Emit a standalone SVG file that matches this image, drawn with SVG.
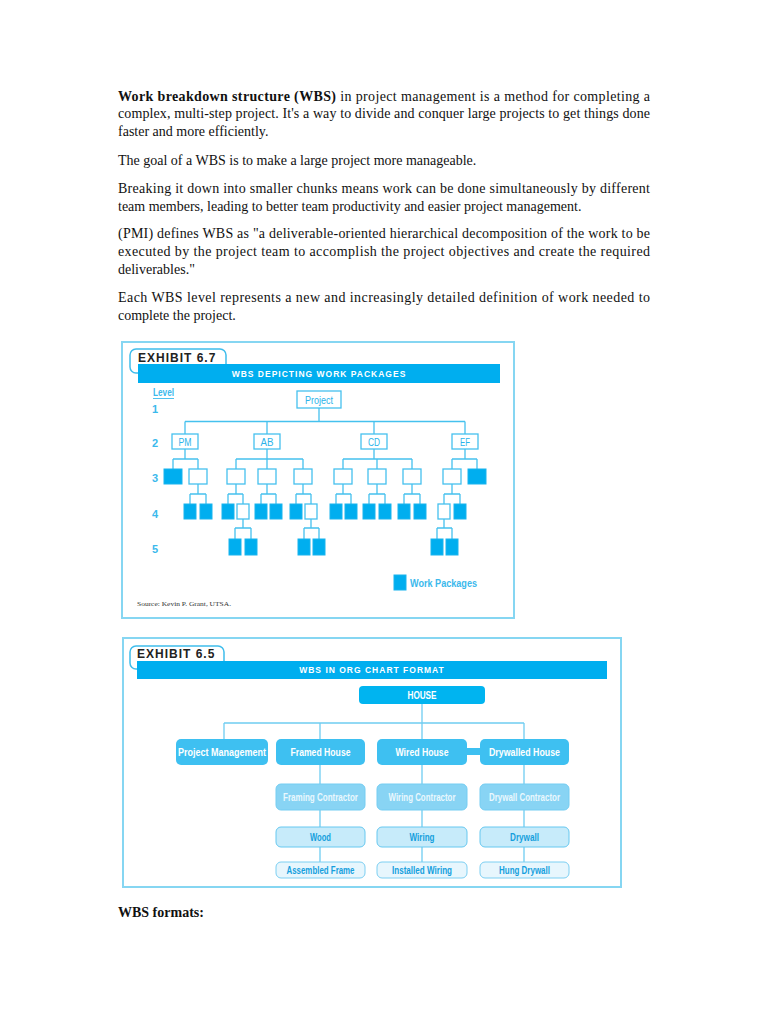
<svg xmlns="http://www.w3.org/2000/svg" width="768" height="1024" viewBox="0 0 768 1024">
<style>
.p{font-family:"Liberation Serif","Times New Roman",serif;font-size:14px;fill:#111}
.b{font-weight:bold}
.frame{fill:none;stroke:#86d6f2;stroke-width:2}
.tab{fill:#fff;stroke:#3fbdec;stroke-width:1.5}
.ex{font-family:"Liberation Sans",Arial,sans-serif;font-weight:bold;font-size:12px;letter-spacing:1px;fill:#222}
.ban{fill:#00aeef}
.bt{font-family:"Liberation Sans",Arial,sans-serif;font-weight:bold;font-size:8.5px;letter-spacing:1px;fill:#fff;text-anchor:middle}
.e{fill:#fff;stroke:#45c1ee;stroke-width:1.3}
.f{fill:#00aeef;stroke:#19b4ee;stroke-width:1}
.lbl{font-family:"Liberation Sans",Arial,sans-serif;font-size:11px;fill:#2bb3ea;text-anchor:middle}
.lv{font-family:"Liberation Sans",Arial,sans-serif;font-size:11px;font-weight:bold;fill:#3bb9ec}
.con{fill:none;stroke:#45c1ee;stroke-width:1.3}
.con2{fill:none;stroke:#6fcdf1;stroke-width:1.3}
.l1{fill:#00b4f0}
.l2{fill:#3ec0f1}
.l3{fill:#88d4f4;stroke:#74cdf2;stroke-width:1}
.l4{fill:#c7ebfa;stroke:#66c8f0;stroke-width:1}
.l5{fill:#e7f6fd;stroke:#7ccff2;stroke-width:1}
.wt{font-family:"Liberation Sans",Arial,sans-serif;font-weight:bold;font-size:11px;fill:#fff;text-anchor:middle}
.lt{font-family:"Liberation Sans",Arial,sans-serif;font-weight:bold;font-size:11px;fill:#eaf8fe;text-anchor:middle}
.bl{font-family:"Liberation Sans",Arial,sans-serif;font-weight:bold;font-size:11px;fill:#159fdd;text-anchor:middle}
</style>
<rect width="768" height="1024" fill="#fff"/>

<g id="intro-text">
<text class="p" x="118" y="100.5" textLength="532" lengthAdjust="spacing"><tspan class="b">Work breakdown structure (WBS)</tspan> in project management is a method for completing a</text>
<text class="p" x="118" y="118" textLength="532" lengthAdjust="spacing">complex, multi-step project. It's a way to divide and conquer large projects to get things done</text>
<text class="p" x="118" y="135.5">faster and more efficiently.</text>
<text class="p" x="118" y="164.5">The goal of a WBS is to make a large project more manageable.</text>
<text class="p" x="118" y="192.5" textLength="532" lengthAdjust="spacing">Breaking it down into smaller chunks means work can be done simultaneously by different</text>
<text class="p" x="118" y="210.5">team members, leading to better team productivity and easier project management.</text>
<text class="p" x="118" y="237.5" textLength="532" lengthAdjust="spacing">(PMI) defines WBS as "a deliverable-oriented hierarchical decomposition of the work to be</text>
<text class="p" x="118" y="255.5" textLength="532" lengthAdjust="spacing">executed by the project team to accomplish the project objectives and create the required</text>
<text class="p" x="118" y="273.5">deliverables."</text>
<text class="p" x="118" y="301.5" textLength="532" lengthAdjust="spacing">Each WBS level represents a new and increasingly detailed definition of work needed to</text>
<text class="p" x="118" y="319.5">complete the project.</text>
</g>

<!-- EXHIBIT 6.7 -->
<g id="exhibit-6-7">
<rect class="frame" x="122" y="342" width="392" height="276"/>
<rect class="tab" x="130" y="349" width="96" height="24" rx="6"/>
<text class="ex" x="138" y="361.5">EXHIBIT 6.7</text>
<rect class="ban" x="138" y="364" width="362" height="19"/>
<text class="bt" x="319" y="376.5">WBS DEPICTING WORK PACKAGES</text>
<text class="lv" x="153" y="396" textLength="21" lengthAdjust="spacingAndGlyphs">Level</text>
<line x1="153" y1="398.5" x2="174" y2="398.5" stroke="#3bb9ec" stroke-width="0.9"/>
<text class="lv" x="152" y="413">1</text>
<text class="lv" x="152" y="447">2</text>
<text class="lv" x="152" y="482">3</text>
<text class="lv" x="152" y="518">4</text>
<text class="lv" x="152" y="553">5</text>
<text style="font-family:'Liberation Serif',serif;font-size:7px;fill:#333" x="137" y="606" textLength="94" lengthAdjust="spacingAndGlyphs">Source: Kevin P. Grant, UTSA.</text>
</g>

<g id="wbs-connectors">
<path class="con" d="M319 408V421.5M185 421.5H465M185 421.5V434M267 421.5V434M374 421.5V434M465 421.5V434
M185 449V459M173 459H198M173 459V469M198 459V469
M267 449V459M236 459H303M236 459V469M267 459V469M303 459V469
M374 449V459M343 459H412M343 459V469M377 459V469M412 459V469
M465 449V459M452 459H477M452 459V469M477 459V469
M198 484V494M190 494H206M190 494V504M206 494V504
M236 484V494M228 494H243M228 494V504M243 494V504
M267 484V494M261 494H276M261 494V504M276 494V504
M303 484V494M296 494H311M296 494V504M311 494V504
M343 484V494M336 494H351M336 494V504M351 494V504
M377 484V494M369 494H385M369 494V504M385 494V504
M412 484V494M404 494H420M404 494V504M420 494V504
M452 484V494M444 494H460M444 494V504M460 494V504
M243 519V528M235 528H251M235 528V539M251 528V539
M311 519V528M304 528H319M304 528V539M319 528V539
M444 519V528M437 528H452M437 528V539M452 528V539"/>
</g>

<g id="n-project"><rect class="e" x="297" y="391" width="44" height="17"/><text class="lbl" x="319" y="403.5" textLength="28" lengthAdjust="spacingAndGlyphs">Project</text></g>
<g id="n-pm"><rect class="e" x="172" y="434" width="26" height="15"/><text class="lbl" x="185" y="445.5" textLength="13" lengthAdjust="spacingAndGlyphs">PM</text></g>
<g id="n-ab"><rect class="e" x="254" y="434" width="26" height="15"/><text class="lbl" x="267" y="445.5" textLength="13" lengthAdjust="spacingAndGlyphs">AB</text></g>
<g id="n-cd"><rect class="e" x="361" y="434" width="26" height="15"/><text class="lbl" x="374" y="445.5" textLength="12" lengthAdjust="spacingAndGlyphs">CD</text></g>
<g id="n-ef"><rect class="e" x="452" y="434" width="26" height="15"/><text class="lbl" x="465" y="445.5" textLength="10" lengthAdjust="spacingAndGlyphs">EF</text></g>

<g id="n-pm-1"><rect class="f" x="164" y="469" width="18" height="15"/></g>
<g id="n-pm-2"><rect class="e" x="189" y="469" width="18" height="15"/></g>
<g id="n-ab-1"><rect class="e" x="227" y="469" width="18" height="15"/></g>
<g id="n-ab-2"><rect class="e" x="258" y="469" width="18" height="15"/></g>
<g id="n-ab-3"><rect class="e" x="294" y="469" width="18" height="15"/></g>
<g id="n-cd-1"><rect class="e" x="334" y="469" width="18" height="15"/></g>
<g id="n-cd-2"><rect class="e" x="368" y="469" width="18" height="15"/></g>
<g id="n-cd-3"><rect class="e" x="403" y="469" width="18" height="15"/></g>
<g id="n-ef-1"><rect class="e" x="443" y="469" width="18" height="15"/></g>
<g id="n-ef-2"><rect class="f" x="468" y="469" width="18" height="15"/></g>

<g id="n-pm-2-1"><rect class="f" x="184" y="504" width="12" height="15"/></g>
<g id="n-pm-2-2"><rect class="f" x="200" y="504" width="12" height="15"/></g>
<g id="n-ab-1-1"><rect class="f" x="222" y="504" width="12" height="15"/></g>
<g id="n-ab-1-2"><rect class="e" x="237" y="504" width="12" height="15"/></g>
<g id="n-ab-2-1"><rect class="f" x="255" y="504" width="12" height="15"/></g>
<g id="n-ab-2-2"><rect class="f" x="270" y="504" width="12" height="15"/></g>
<g id="n-ab-3-1"><rect class="f" x="290" y="504" width="12" height="15"/></g>
<g id="n-ab-3-2"><rect class="e" x="305" y="504" width="12" height="15"/></g>
<g id="n-cd-1-1"><rect class="f" x="330" y="504" width="12" height="15"/></g>
<g id="n-cd-1-2"><rect class="f" x="345" y="504" width="12" height="15"/></g>
<g id="n-cd-2-1"><rect class="f" x="363" y="504" width="12" height="15"/></g>
<g id="n-cd-2-2"><rect class="f" x="379" y="504" width="12" height="15"/></g>
<g id="n-cd-3-1"><rect class="f" x="398" y="504" width="12" height="15"/></g>
<g id="n-cd-3-2"><rect class="f" x="414" y="504" width="12" height="15"/></g>
<g id="n-ef-1-1"><rect class="e" x="438" y="504" width="12" height="15"/></g>
<g id="n-ef-1-2"><rect class="f" x="454" y="504" width="12" height="15"/></g>

<g id="n-ab-1-2-1"><rect class="f" x="229" y="539" width="12" height="16"/></g>
<g id="n-ab-1-2-2"><rect class="f" x="245" y="539" width="12" height="16"/></g>
<g id="n-ab-3-2-1"><rect class="f" x="298" y="539" width="12" height="16"/></g>
<g id="n-ab-3-2-2"><rect class="f" x="313" y="539" width="12" height="16"/></g>
<g id="n-ef-1-1-1"><rect class="f" x="431" y="539" width="12" height="16"/></g>
<g id="n-ef-1-1-2"><rect class="f" x="446" y="539" width="12" height="16"/></g>

<g id="legend"><rect class="f" x="394" y="575" width="12" height="15"/><text class="lv" x="410" y="587" textLength="67" lengthAdjust="spacingAndGlyphs">Work Packages</text></g>

<!-- EXHIBIT 6.5 -->
<g id="exhibit-6-5">
<rect class="frame" x="123" y="638" width="498" height="249"/>
<rect class="tab" x="130" y="646" width="94" height="23" rx="6"/>
<text class="ex" x="137" y="657.5">EXHIBIT 6.5</text>
<rect class="ban" x="137" y="661" width="470" height="18"/>
<text class="bt" x="372" y="673">WBS IN ORG CHART FORMAT</text>
</g>

<g id="org-connectors">
<path class="con2" d="M422 704V739M224 723H524M224 723V739M320 723V739M524 723V739
M320 765V784M422 765V784M524 765V784
M320 810V827M422 810V827M524 810V827
M320 847V862M422 847V862M524 847V862"/>
<rect class="l2" x="466" y="748" width="15" height="7"/>
</g>

<g id="o-house"><rect class="l1" x="359" y="686" width="126" height="18" rx="4"/><text class="wt" x="422" y="698.5" textLength="29" lengthAdjust="spacingAndGlyphs">HOUSE</text></g>
<g id="o-pm"><rect class="l2" x="176" y="739" width="92" height="26" rx="5"/><text class="wt" x="222" y="756" textLength="88" lengthAdjust="spacingAndGlyphs">Project Management</text></g>
<g id="o-framed"><rect class="l2" x="276" y="739" width="89" height="26" rx="5"/><text class="wt" x="320.5" y="756" textLength="60" lengthAdjust="spacingAndGlyphs">Framed House</text></g>
<g id="o-wired"><rect class="l2" x="377" y="739" width="90" height="26" rx="5"/><text class="wt" x="422" y="756" textLength="53" lengthAdjust="spacingAndGlyphs">Wired House</text></g>
<g id="o-drywalled"><rect class="l2" x="480" y="739" width="89" height="26" rx="5"/><text class="wt" x="524.5" y="756" textLength="71" lengthAdjust="spacingAndGlyphs">Drywalled House</text></g>

<g id="o-framing-contractor"><rect class="l3" x="276" y="784" width="89" height="26" rx="5"/><text class="lt" x="320.5" y="801" textLength="75" lengthAdjust="spacingAndGlyphs">Framing Contractor</text></g>
<g id="o-wiring-contractor"><rect class="l3" x="377" y="784" width="90" height="26" rx="5"/><text class="lt" x="422" y="801" textLength="67" lengthAdjust="spacingAndGlyphs">Wiring Contractor</text></g>
<g id="o-drywall-contractor"><rect class="l3" x="480" y="784" width="89" height="26" rx="5"/><text class="lt" x="524.5" y="801" textLength="71" lengthAdjust="spacingAndGlyphs">Drywall Contractor</text></g>

<g id="o-wood"><rect class="l4" x="276" y="827" width="89" height="20" rx="5"/><text class="bl" x="320.5" y="841" textLength="21" lengthAdjust="spacingAndGlyphs">Wood</text></g>
<g id="o-wiring"><rect class="l4" x="377" y="827" width="90" height="20" rx="5"/><text class="bl" x="422" y="841" textLength="25" lengthAdjust="spacingAndGlyphs">Wiring</text></g>
<g id="o-drywall"><rect class="l4" x="480" y="827" width="89" height="20" rx="5"/><text class="bl" x="524.5" y="841" textLength="29" lengthAdjust="spacingAndGlyphs">Drywall</text></g>

<g id="o-assembled-frame"><rect class="l5" x="276" y="862" width="89" height="16" rx="5"/><text class="bl" x="320.5" y="874" textLength="68" lengthAdjust="spacingAndGlyphs">Assembled Frame</text></g>
<g id="o-installed-wiring"><rect class="l5" x="377" y="862" width="90" height="16" rx="5"/><text class="bl" x="422" y="874" textLength="60" lengthAdjust="spacingAndGlyphs">Installed Wiring</text></g>
<g id="o-hung-drywall"><rect class="l5" x="480" y="862" width="89" height="16" rx="5"/><text class="bl" x="524.5" y="874" textLength="51" lengthAdjust="spacingAndGlyphs">Hung Drywall</text></g>

<g id="footer-text"><text class="p b" x="118" y="917">WBS formats:</text></g>
</svg>
